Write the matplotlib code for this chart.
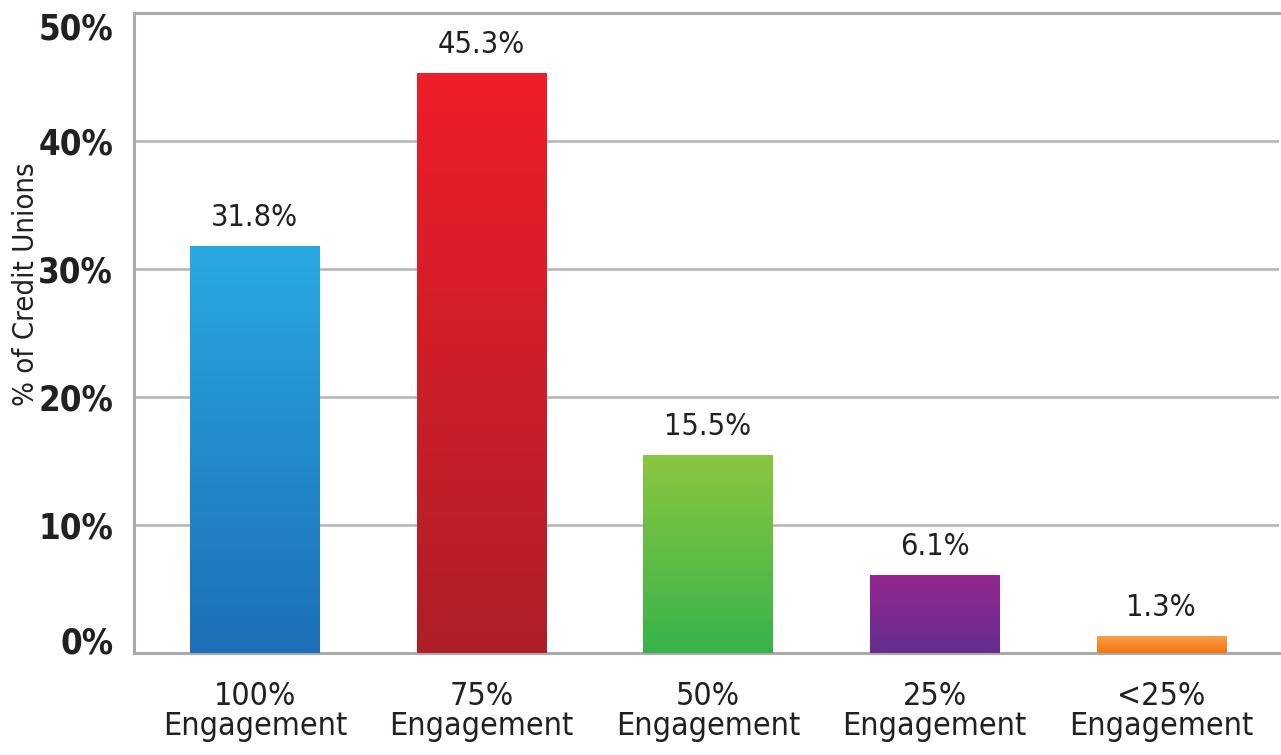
import matplotlib
matplotlib.use('Agg')
import matplotlib.pyplot as plt
import numpy as np
from matplotlib.colors import LinearSegmentedColormap

# data
categories = ['100%\nEngagement', '75%\nEngagement', '50%\nEngagement',
              '25%\nEngagement', '<25%\nEngagement']
values = [31.8, 45.3, 15.5, 6.1, 1.3]
labels = ['31.8%', '45.3%', '15.5%', '6.1%', '1.3%']
yticks = [0, 10, 20, 30, 40, 50]

# gradient colours (top, bottom)
grad_colors = [('#29a9e1', '#1d6fb7'),
               ('#ee1d2a', '#ae1f27'),
               ('#8cc63f', '#37b34a'),
               ('#93278f', '#652d90'),
               ('#f8a046', '#f7720e')]

plt.rcParams['font.family'] = ['DejaVu Sans']
plt.rcParams['font.stretch'] = 'condensed'

fig = plt.figure(figsize=(12.81, 7.55), dpi=100)
ax = fig.add_axes([134 / 1281, 102 / 755, 1145 / 1281, 640 / 755])

x = np.arange(len(categories))
width = 0.57

bars = ax.bar(x, values, width, color='none', edgecolor='none', zorder=3)

# gradient fill clipped to each bar
for bar, (c_top, c_bot) in zip(bars, grad_colors):
    cmap = LinearSegmentedColormap.from_list('g', [c_bot, c_top])
    grad = np.linspace(0, 1, 256).reshape(-1, 1)
    x0 = bar.get_x()
    h = bar.get_height()
    im = ax.imshow(grad, cmap=cmap, origin='lower', aspect='auto',
                   extent=[x0, x0 + bar.get_width(), 0, h], zorder=3)
    im.set_clip_path(bar)

# value labels
for bar, lab in zip(bars, labels):
    ax.text(bar.get_x() + bar.get_width() / 2, bar.get_height() + 1.1, lab,
            ha='center', va='bottom', fontsize=22, color='#231f20')

ax.set_xlim(-0.533, 4.52)
ax.set_ylim(0, 50)

ax.set_yticks(yticks)
ax.set_yticklabels([f'{t}%' for t in yticks], fontsize=25, fontweight='bold',
                   color='#231f20')
# top label sits below the top line, bottom one on the axis
ytl = ax.get_yticklabels()
ytl[-1].set_va('top')
ytl[0].set_va('baseline')
ax.set_xticks(x)
ax.set_xticklabels(categories, fontsize=23, color='#231f20', linespacing=0.95)
ax.tick_params(axis='both', length=0)
ax.tick_params(axis='y', pad=15)
ax.tick_params(axis='x', pad=20)

ax.grid(True, axis='y', color='#b3b3b3', linewidth=1.8, zorder=0)
ax.set_axisbelow(True)

for side in ['left', 'top', 'bottom']:
    ax.spines[side].set_color('#aaaaaa')
    ax.spines[side].set_linewidth(2.2)
ax.spines['right'].set_visible(False)

fig.text(26 / 1281, 1 - 284 / 755, '% of Credit Unions', rotation=90,
         ha='center', va='center', fontsize=21, color='#231f20')

fig.savefig('out.png', dpi=100)
